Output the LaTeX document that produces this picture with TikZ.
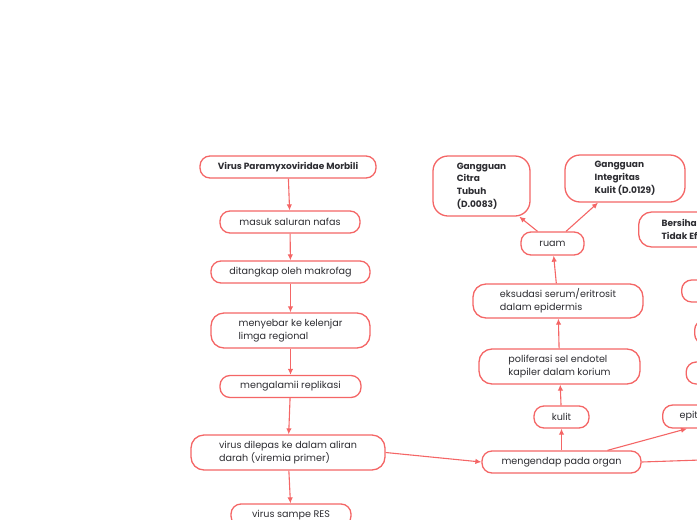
\documentclass[tikz,border=0pt]{standalone}
\usepackage{fontspec}
\setmainfont{Poppins}
\usetikzlibrary{arrows.meta}
\definecolor{salmon}{RGB}{244,102,102}
\definecolor{ink}{RGB}{45,45,50}
\begin{document}
\begin{tikzpicture}[x=1pt,y=-1pt,
  box/.style={draw=salmon, line width=1.3pt, rounded corners=10pt, fill=white,
    text=ink, align=left, inner sep=2pt, minimum height=22pt,
    font=\fontsize{9.6}{13.2}\selectfont},
  bold/.style={box, font=\fontsize{9}{12.8}\selectfont\bfseries},
  arr/.style={draw=salmon, line width=1.1pt, -{Latex[length=6pt,width=5.5pt]}}]
\useasboundingbox (0,0) rectangle (697,520);
\clip (0,0) rectangle (697,520);

% left column
\node[bold, minimum width=176pt] (virus) at (288,167) {Virus Paramyxoviridae Morbili};
\node[box, minimum width=140pt] (masuk) at (290,222) {masuk saluran nafas};
\node[box, minimum width=159pt] (tangkap) at (290.5,272) {ditangkap oleh makrofag};
\node[box, minimum width=159pt, minimum height=35pt, rounded corners=13pt] (menyebar) at (290.5,330.5) {menyebar ke kelenjar\\limga regional};
\node[box, minimum width=141pt] (replikasi) at (290.5,386.5) {mengalamii replikasi};
\node[box, minimum width=194pt, minimum height=35pt, rounded corners=13pt] (dilepas) at (288,452.5) {virus dilepas ke dalam aliran\\darah (viremia primer)};
\node[box, minimum width=120pt] (res) at (291,515) {virus sampe RES};

% right column
\node[box, minimum width=159pt] (mengendap) at (561.5,462) {mengendap pada organ};
\node[box, minimum width=55pt] (kulit) at (561.5,417) {kulit};
\node[box, minimum width=161pt, minimum height=35pt, rounded corners=13pt] (poliferasi) at (559.5,366.5) {poliferasi sel endotel\\kapiler dalam korium};
\node[box, minimum width=170pt, minimum height=34pt, rounded corners=13pt] (eksudasi) at (558,301) {eksudasi serum/eritrosit\\dalam epidermis};
\node[box, minimum width=63pt, minimum height=23pt] (ruam) at (552.5,243.5) {ruam};
\node[bold, minimum width=97pt, minimum height=60pt, rounded corners=15pt] (citra) at (481.5,186) {Gangguan\\Citra\\Tubuh\\(D.0083)};
\node[bold, minimum width=120pt, minimum height=47pt, rounded corners=15pt] (integritas) at (625,178.5) {Gangguan\\Integritas\\Kulit (D.0129)};

% cut off at the right edge
\node[bold, anchor=west, inner xsep=23pt, minimum height=35pt, rounded corners=13pt] (bersihan) at (638,229.5) {Bersihan Jalan Nafas\\Tidak Efektif};
\node[box, anchor=west, minimum width=80pt] (kanan1) at (681,291) {};
\node[box, anchor=west, minimum width=80pt, minimum height=24pt] (kanan2) at (694,332) {};
\node[box, anchor=west, minimum width=80pt] (kanan3) at (685.5,373) {};
\node[box, anchor=west, inner xsep=17pt, minimum height=23pt] (epit) at (662,416.5) {epitel saluran nafas};
\coordinate (keluar) at (760,458);

\path[arr] (virus) -- (masuk);
\path[arr] (masuk) -- (tangkap);
\path[arr] (tangkap) -- (menyebar);
\path[arr] (menyebar) -- (replikasi);
\path[arr] (replikasi) -- (dilepas);
\path[arr] (dilepas) -- (res);
\path[arr] (dilepas.east) -- (mengendap.west);
\path[arr] (mengendap) -- (kulit);
\path[arr] (kulit) -- (poliferasi);
\path[arr] (poliferasi) -- (eksudasi);
\path[arr] (eksudasi) -- (ruam);
\path[arr] (ruam) -- (citra);
\path[arr] (ruam) -- (integritas);
\path[arr] ([xshift=46pt]mengendap.north) -- ([xshift=25pt]epit.south west);
\path[arr] (mengendap.east) -- (keluar);
\end{tikzpicture}
\end{document}
